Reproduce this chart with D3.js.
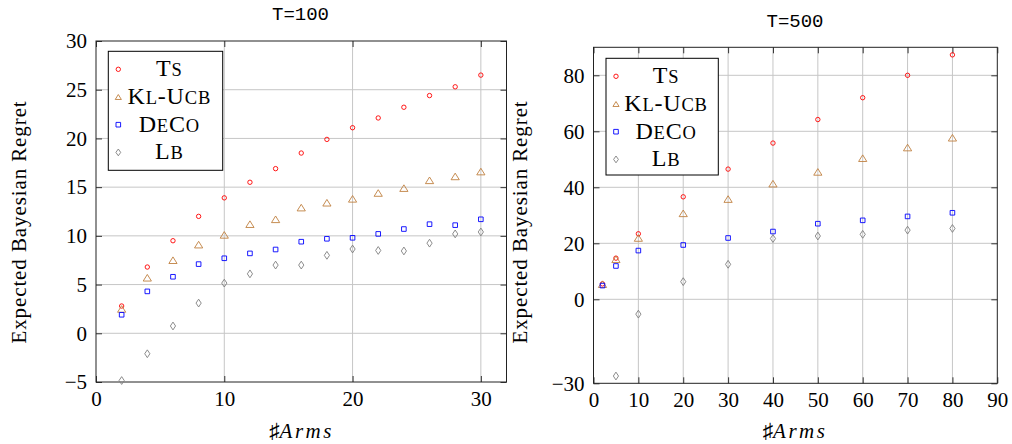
<!DOCTYPE html>
<html>
<head>
<meta charset="utf-8">
<script src="https://cdn.jsdelivr.net/npm/d3@7"></script>
<style>
    html, body { margin: 0; padding: 0; background: #fff; }
    svg { display: block; }
</style>
</head>
<body>
<svg id="chart" width="1012" height="444"></svg>
<script>
(function () {
    const armsT100 = [2, 4, 6, 8, 10, 12, 14, 16, 18, 20, 22, 24, 26, 28, 30];
    const tsT100 = [2.8, 6.8, 9.5, 12.0, 13.9, 15.5, 16.9, 18.5, 19.9, 21.1, 22.1, 23.2, 24.4, 25.3, 26.5];
    const klT100 = [2.5, 5.7, 7.5, 9.1, 10.1, 11.2, 11.7, 12.9, 13.4, 13.8, 14.4, 14.9, 15.7, 16.1, 16.6];
    const decoT100 = [1.9, 4.3, 5.8, 7.1, 7.7, 8.2, 8.6, 9.4, 9.7, 9.8, 10.2, 10.7, 11.2, 11.1, 11.7];
    const lbT100 = [-4.85, -2.1, 0.75, 3.1, 5.15, 6.1, 7.0, 7.0, 8.0, 8.65, 8.5, 8.45, 9.25, 10.2, 10.4];

    const armsT500 = [2, 5, 10, 20, 30, 40, 50, 60, 70, 80];
    const tsT500 = [5.5, 14.7, 23.4, 36.6, 46.5, 55.8, 64.2, 72.0, 80.0, 87.3];
    const klT500 = [5.4, 14.3, 21.9, 30.7, 35.8, 41.3, 45.5, 50.4, 54.2, 57.7];
    const decoT500 = [4.9, 11.9, 17.4, 19.4, 21.9, 24.2, 27.0, 28.2, 29.6, 30.9];
    const lbT500 = [null, -27.4, -5.3, 6.3, 12.5, 21.7, 22.6, 23.2, 24.7, 25.3];

    const xTicksT100 = [0, 10, 20, 30];
    const yTicksT100 = [-5, 0, 5, 10, 15, 20, 25, 30];
    const xTicksT500 = [0, 10, 20, 30, 40, 50, 60, 70, 80, 90];
    const yTicksT500 = [-30, 0, 20, 40, 60, 80];

    const legendNames = ["Ts", "Kl-Ucb", "DeCo", "Lb"];
    const seriesColors = ["#ff0000", "#bf8040", "#0000ff", "#7f7f7f"];
    const seriesMarks = ["circle", "triangle", "square", "diamond"];

    const serif = "'Liberation Serif', 'Times New Roman', serif";

    const panels = [
        {
            title: "T=100", arms: armsT100, series: [tsT100, klT100, decoT100, lbT100],
            xTicks: xTicksT100, yTicks: yTicksT100, xDomain: [0, 32], yDomain: [-5, 30],
            box: { left: 96, top: 41, right: 506.5, bottom: 382 },
            legend: { x: 108.3, y: 51.3, w: 114.4, h: 119, textX: 61 },
            titleX: 300.5, titleY: 20, ylabelX: 26, xlabelX: 301.5
        },
        {
            title: "T=500", arms: armsT500, series: [tsT500, klT500, decoT500, lbT500],
            xTicks: xTicksT500, yTicks: yTicksT500, xDomain: [0, 90], yDomain: [-30, 90],
            box: { left: 593.5, top: 47.3, right: 997.3, bottom: 383.3 },
            legend: { x: 606, y: 58.3, w: 112.3, h: 116.7, textX: 60 },
            titleX: 795, titleY: 27, ylabelX: 527, xlabelX: 795
        }
    ];

    const svg = d3.select("#chart");

    function markPath(type, big) {
        const k = big ? 1 : 0.75;
        switch (type) {
            case "triangle": {
                const w = 4.1 * k, h = 3.3 * k;
                return `M0,${-h}L${w},${h}L${-w},${h}Z`;
            }
            case "square": {
                const s = 2.3;
                return `M${-s},${-s}H${s}V${s}H${-s}Z`;
            }
            case "diamond": {
                const w = big ? 2.6 : 2.4, h = big ? 3.9 : 3.4;
                return `M0,${-h}L${w},0L0,${h}L${-w},0Z`;
            }
        }
        return "";
    }

    function drawMark(g, type, color, big) {
        if (type === "circle") {
            g.append("circle").attr("r", 2.2);
        } else {
            g.append("path").attr("d", markPath(type, big));
        }
        g.selectAll("*")
            .attr("fill", "none")
            .attr("stroke", color)
            .attr("stroke-width", 0.9);
    }

    panels.forEach(p => {
        const width = p.box.right - p.box.left;
        const height = p.box.bottom - p.box.top;

        const x = d3.scaleLinear().domain(p.xDomain).range([0, width]);
        const y = d3.scaleLinear().domain(p.yDomain).range([height, 0]);

        const g = svg.append("g").attr("transform", `translate(${p.box.left},${p.box.top})`);

        // grid
        g.append("g")
            .selectAll("line")
            .data(p.xTicks.filter(t => t > p.xDomain[0] && t < p.xDomain[1]))
            .enter().append("line")
            .attr("x1", d => x(d)).attr("x2", d => x(d))
            .attr("y1", 0).attr("y2", height)
            .attr("stroke", "#c6c6c6").attr("stroke-width", 1);
        g.append("g")
            .selectAll("line")
            .data(p.yTicks.filter(t => t > p.yDomain[0] && t < p.yDomain[1]))
            .enter().append("line")
            .attr("x1", 0).attr("x2", width)
            .attr("y1", d => y(d)).attr("y2", d => y(d))
            .attr("stroke", "#c6c6c6").attr("stroke-width", 1);

        const fmt = d3.format("d");
        const styleAxis = a => {
            a.select(".domain").remove();
            a.selectAll(".tick line").attr("stroke", "#333").attr("stroke-width", 1);
            a.selectAll(".tick text")
                .style("font-family", serif)
                .style("font-size", "21px")
                .attr("fill", "#000");
        };

        g.append("g")
            .attr("transform", `translate(0,${height})`)
            .call(d3.axisBottom(x).tickValues(p.xTicks).tickFormat(fmt).tickSizeInner(-6).tickSizeOuter(0).tickPadding(8.6))
            .call(styleAxis);
        g.append("g")
            .call(d3.axisTop(x).tickValues(p.xTicks).tickFormat("").tickSizeInner(-6).tickSizeOuter(0))
            .call(styleAxis);
        g.append("g")
            .call(d3.axisLeft(y).tickValues(p.yTicks).tickFormat(fmt).tickSizeInner(-6).tickSizeOuter(0).tickPadding(9))
            .call(styleAxis);
        g.append("g")
            .attr("transform", `translate(${width},0)`)
            .call(d3.axisRight(y).tickValues(p.yTicks).tickFormat("").tickSizeInner(-6).tickSizeOuter(0))
            .call(styleAxis);

        g.append("rect")
            .attr("width", width).attr("height", height)
            .attr("fill", "none").attr("stroke", "#222").attr("stroke-width", 1);

        p.series.forEach((vals, si) => {
            const pts = p.arms.map((a, i) => ({ a: a, v: vals[i] })).filter(d => d.v !== null);
            g.append("g")
                .selectAll("g")
                .data(pts)
                .enter().append("g")
                .attr("transform", d => `translate(${x(d.a)},${y(d.v)})`)
                .each(function () {
                    drawMark(d3.select(this), seriesMarks[si], seriesColors[si], true);
                });
        });

        // legend
        const lg = svg.append("g").attr("transform", `translate(${p.legend.x},${p.legend.y})`);
        lg.append("rect")
            .attr("width", p.legend.w).attr("height", p.legend.h)
            .attr("fill", "#fff").attr("stroke", "#000").attr("stroke-width", 1);
        legendNames.forEach((name, i) => {
            const row = lg.append("g").attr("transform", `translate(0,${18 + i * 27.7})`);
            drawMark(row.append("g").attr("transform", "translate(10,0)"), seriesMarks[i], seriesColors[i], false);
            const t = row.append("text")
                .attr("x", p.legend.textX).attr("y", 6.8)
                .attr("text-anchor", "middle")
                .style("font-family", serif)
                .style("letter-spacing", "0.8px");
            name.split("").forEach(ch => {
                const small = ch !== ch.toUpperCase();
                t.append("tspan")
                    .style("font-size", small ? "18.5px" : "24px")
                    .text(ch.toUpperCase());
            });
        });

        svg.append("text")
            .attr("x", p.titleX).attr("y", p.titleY)
            .attr("text-anchor", "middle")
            .style("font-family", "'Liberation Mono', monospace")
            .style("font-size", "19px")
            .text(p.title);

        svg.append("text")
            .attr("transform", `translate(${p.ylabelX},222) rotate(-90)`)
            .attr("text-anchor", "middle")
            .style("font-family", serif)
            .style("font-size", "21px")
            .style("letter-spacing", "0.9px")
            .text("Expected Bayesian Regret");

        const xl = svg.append("text")
            .attr("x", p.xlabelX).attr("y", 437.5)
            .attr("text-anchor", "middle")
            .style("font-family", serif)
            .style("font-size", "21px");
        xl.append("tspan").text("♯");
        xl.append("tspan").style("font-style", "italic").style("letter-spacing", "2.5px").text("Arms");
    });
})();
</script>
</body>
</html>
